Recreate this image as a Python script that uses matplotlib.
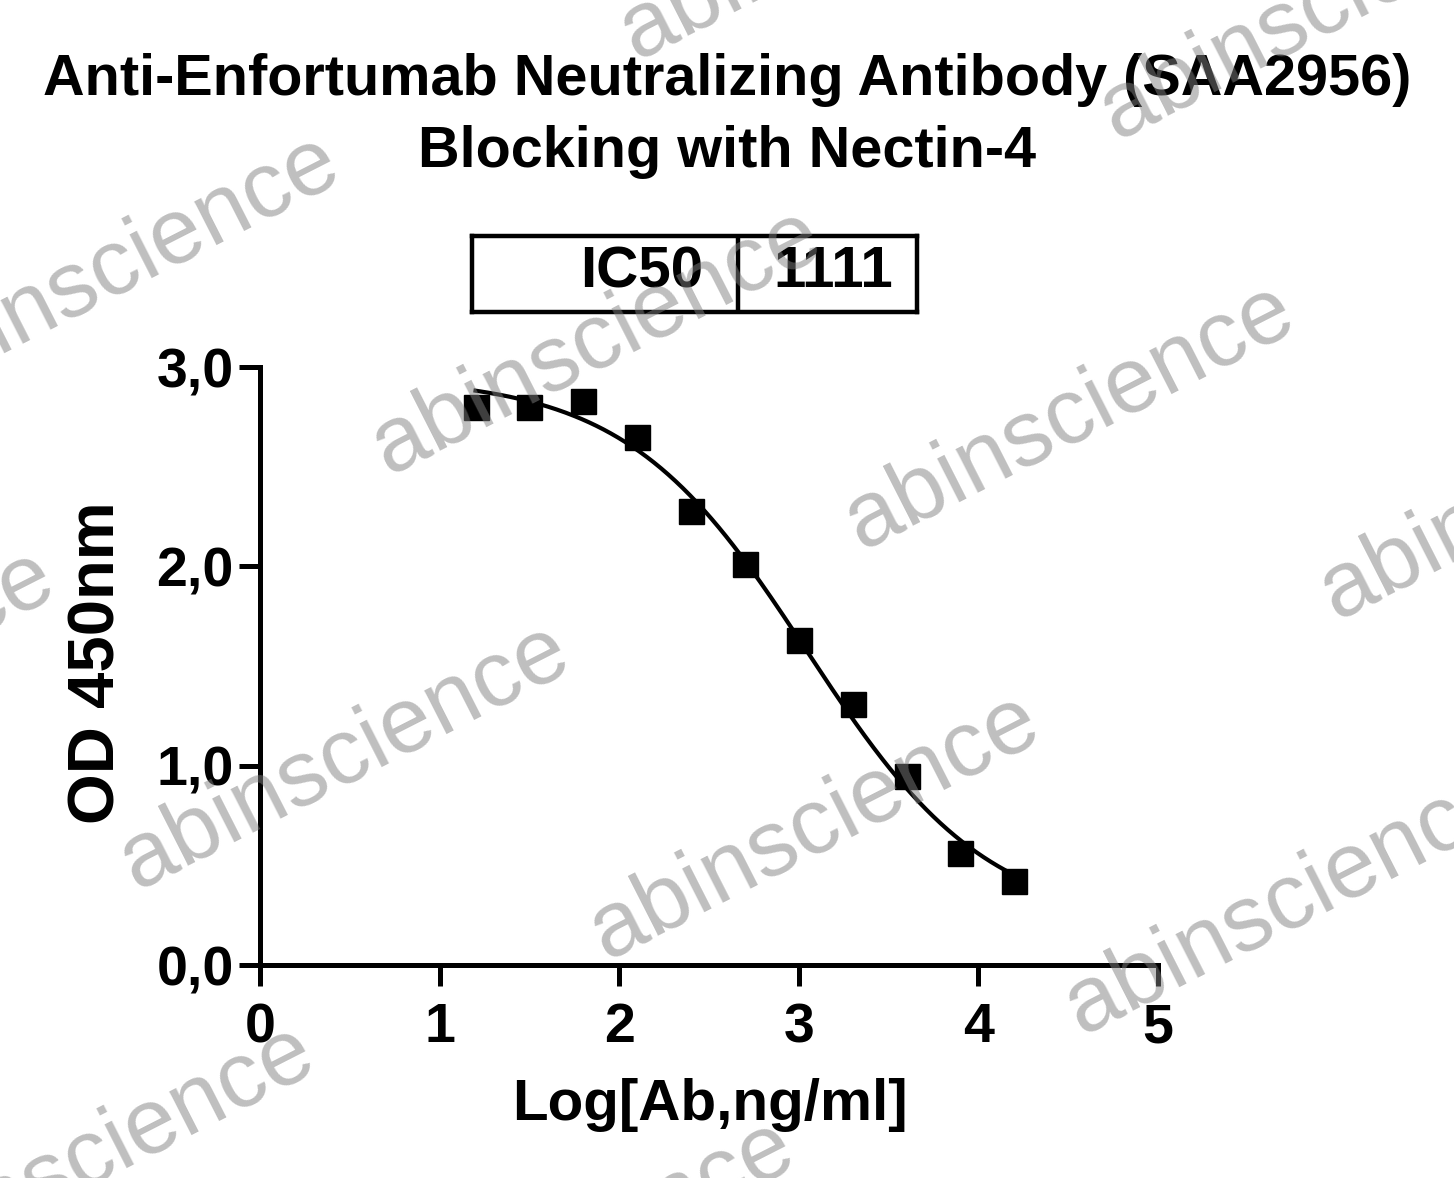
import numpy as np
import matplotlib.pyplot as plt

plt.rcParams['font.family'] = ['Liberation Sans', 'DejaVu Sans']
plt.rcParams['font.weight'] = 'bold'

# data
log_conc = [1.2, 1.5, 1.8, 2.1, 2.4, 2.7, 3.0, 3.3, 3.6, 3.9, 4.2]
od450 = [2.80, 2.80, 2.83, 2.65, 2.28, 2.01, 1.63, 1.31, 0.95, 0.56, 0.42]
ic50 = 1111
ic50_label = "IC50"
title_lines = ["Anti-Enfortumab Neutralizing Antibody (SAA2956)",
               "Blocking with Nectin-4"]
xticks = [0, 1, 2, 3, 4, 5]
yticks = [0.0, 1.0, 2.0, 3.0]

x = np.array(log_conc)
y = np.array(od450)
logic50 = np.log10(ic50)


# 4PL fit with the reported IC50: grid over hill, least squares for top/bottom
def fit_4pl(x, y, c):
    best = None
    for h in np.linspace(0.3, 2.0, 341):
        s = 1.0 / (1.0 + 10 ** ((x - c) * h))
        A = np.column_stack([s, 1 - s])
        coef, *_ = np.linalg.lstsq(A, y, rcond=None)
        err = np.sum((A @ coef - y) ** 2)
        if best is None or err < best[0]:
            best = (err, coef[0], coef[1], h)
    return best[1:]


top, bottom, hill = fit_4pl(x, y, logic50)
xs = np.linspace(x.min(), x.max(), 300)
ys = bottom + (top - bottom) / (1 + 10 ** ((xs - logic50) * hill))

W, H = 1454, 1178
fig = plt.figure(figsize=(W / 100, H / 100), dpi=100)
ax = fig.add_axes([260 / W, 1 - 965 / H, 898 / W, 598 / H])

ax.plot(xs, ys, color='black', lw=3, zorder=3)
ax.plot(x, y, 's', color='black', ms=18, zorder=4, clip_on=False)

ax.set_xlim(0, 5)
ax.set_ylim(0, 3.0)
ax.set_xticks(xticks)
ax.set_yticks(yticks)
ax.set_yticklabels([f"{v:.1f}".replace('.', ',') for v in yticks])
for s in ['top', 'right']:
    ax.spines[s].set_visible(False)
for s in ['left', 'bottom']:
    ax.spines[s].set_linewidth(3.6)
ax.tick_params(direction='out', length=15, width=3.6, labelsize=40)
ax.tick_params(axis='x', pad=12)
ax.tick_params(axis='y', pad=4)
for lab in ax.get_xticklabels() + ax.get_yticklabels():
    lab.set_fontweight('bold')

fig.text(710 / W, 1 - 1120 / H, "Log[Ab,ng/ml]", ha='center', va='baseline',
         fontsize=42, fontweight='bold')
fig.text(98 / W, 1 - 663 / H, "OD 450nm", ha='center', va='center',
         rotation=90, fontsize=47, fontweight='bold')

fig.text(0.5, 1 - 95 / H, title_lines[0], ha='center', va='baseline',
         fontsize=41.5, fontweight='bold')
fig.text(0.5, 1 - 167 / H, title_lines[1], ha='center', va='baseline',
         fontsize=41.5, fontweight='bold')

# IC50 box
tab = fig.add_axes([472 / W, 1 - 312 / H, 445 / W, 76 / H])
tab.set_xlim(0, 445)
tab.set_ylim(0, 76)
tab.set_xticks([])
tab.set_yticks([])
for s in tab.spines.values():
    s.set_linewidth(3.2)
tab.axvline(266, color='black', lw=3.2)
tab.text(231, 25, ic50_label, ha='right', va='baseline', fontsize=42, fontweight='bold')
tab.text(301, 25, str(ic50), ha='left', va='baseline', fontsize=42, fontweight='bold')

# watermarks
marks = [(1325, 7), (845, -73), (115, 268), (597, 342), (1070, 417),
         (1545, 487), (-170, 683), (345, 757), (815, 827), (1290, 902),
         (90, 1158), (570, 1253)]
for px, py in marks:
    fig.text(px / W, 1 - py / H, "abinscience", ha='center', va='center',
             fontsize=67, fontweight='normal', rotation=27,
             color='#808080', alpha=0.5, zorder=10)

fig.savefig("out.png", dpi=100)
